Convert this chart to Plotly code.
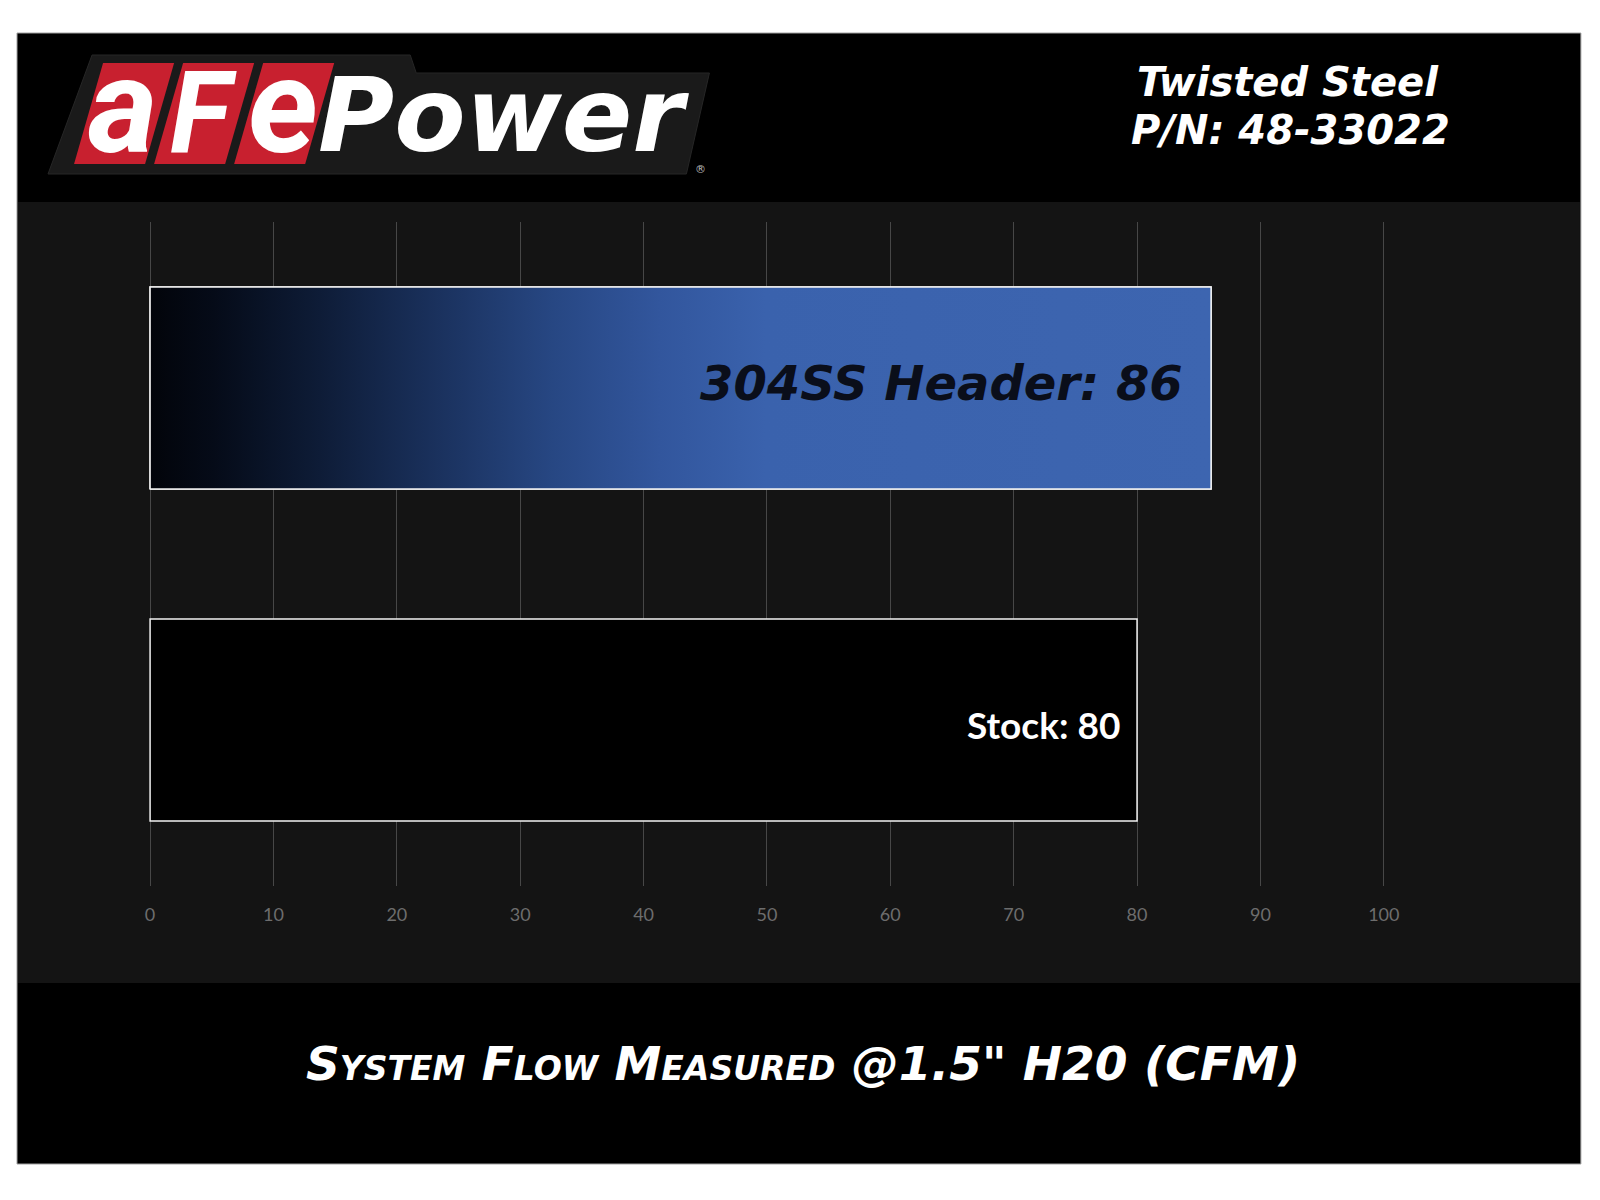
import plotly.graph_objects as go

W = 1600          # page width in px
H = 1190          # figure height (page content below 1190 is plain white)
K = 1612.0 / 1600.0  # horizontal compensation for the capture's width


def px(x):
    return x * K / W


def py(y):
    return 1 - y / H


# ---------------- data ----------------
categories = ["Stock", "304SS Header"]
values = [80, 86]
positions = [0, 1]
bar_fill = ["#000000", "#3b63ad"]
label_colors = ["#ffffff", "#0a0e1a"]
tick_values = [0, 10, 20, 30, 40, 50, 60, 70, 80, 90, 100]
tick_labels = ["0", "10", "20", "30", "40", "50", "60", "70", "80", "90", "100"]

title_text = 'System Flow Measured @1.5" H20 (CFM)'
product_line = "Twisted Steel"
part_number = "P/N: 48-33022"
logo_letters = ["a", "F", "e"]
logo_word = "Power"

BAR_W = 0.608
EDGE = "#f2f2f2"

# axis pixel geometry: value 0 at x=150px, 100 at x=1383px
X0_PX, X100_PX = 150, 1383
UNIT = (X100_PX - X0_PX) / 100.0
PADV = 0.4  # small value padding so the 0 and 100 grid lines are drawn

fig = go.Figure()

fig.add_trace(go.Bar(
    orientation="h",
    x=values,
    y=positions,
    width=BAR_W,
    marker=dict(color=bar_fill, line=dict(color=EDGE, width=1.5)),
    cliponaxis=False,
    hoverinfo="skip",
    showlegend=False,
))

# gradient fill for the header bar, built from its value
v, p = values[1], positions[1]
fig.add_trace(go.Scatter(
    x=[0, v, v, 0, 0],
    y=[p - BAR_W / 2, p - BAR_W / 2, p + BAR_W / 2, p + BAR_W / 2, p - BAR_W / 2],
    mode="lines",
    fill="toself",
    fillgradient=dict(
        type="horizontal",
        colorscale=[
            [0.0, "#02040a"],
            [0.06, "#050b18"],
            [0.16, "#0e1c37"],
            [0.27, "#1a315d"],
            [0.38, "#274783"],
            [0.48, "#32569d"],
            [0.58, "#3a62ad"],
            [1.0, "#3d65b0"],
        ],
    ),
    line=dict(color=EDGE, width=1.5),
    cliponaxis=False,
    hoverinfo="skip",
    showlegend=False,
))

shapes = []
# black frame
shapes.append(dict(type="rect", xref="paper", yref="paper",
                   x0=px(17), x1=px(1580), y0=py(1164), y1=py(33),
                   fillcolor="#000000", line=dict(color="#a0a0a0", width=1), layer="below"))
# textured chart panel
shapes.append(dict(type="rect", xref="paper", yref="paper",
                   x0=px(18), x1=px(1579), y0=py(983), y1=py(202),
                   fillcolor="#141414", line=dict(width=0), layer="below"))

# logo backing plate
plate = [(92, 55), (410, 55), (416, 73), (709, 73), (686, 174), (48, 174)]
path = "M " + " L ".join(f"{px(a):.5f},{py(b):.5f}" for a, b in plate) + " Z"
shapes.append(dict(type="path", xref="paper", yref="paper", path=path,
                   fillcolor="#1a1a1a", line=dict(color="#262626", width=1), layer="below"))

# red parallelograms
for i in range(3):
    tl = 103 + 80 * i
    pts = [(tl, 63), (tl + 71, 63), (tl + 71 - 29, 164), (tl - 29, 164)]
    path = "M " + " L ".join(f"{px(a):.5f},{py(b):.5f}" for a, b in pts) + " Z"
    shapes.append(dict(type="path", xref="paper", yref="paper", path=path,
                       fillcolor="#c8202f", line=dict(width=0), layer="below"))

annotations = []
for i, ch in enumerate(logo_letters):
    cx = 103 + 80 * i + 35 - 15
    size = 114 if ch == "F" else 134
    cy = 114 if ch == "F" else 106
    annotations.append(dict(xref="paper", yref="paper", x=px(cx), y=py(cy),
                            xanchor="center", yanchor="middle", showarrow=False, text=ch,
                            font=dict(family="Roboto", size=size, color="#ffffff",
                                      weight="bold", style="italic")))

annotations.append(dict(xref="paper", yref="paper", x=px(316), y=py(115),
                        xanchor="left", yanchor="middle", showarrow=False, text=logo_word,
                        font=dict(family="DejaVu Sans", size=104, color="#ffffff",
                                  weight="bold", style="italic")))
annotations.append(dict(xref="paper", yref="paper", x=px(700), y=py(170),
                        xanchor="center", yanchor="middle", showarrow=False, text="®",
                        font=dict(family="DejaVu Sans", size=11, color="#bbbbbb")))

annotations.append(dict(xref="paper", yref="paper", x=px(1287), y=py(82),
                        xanchor="center", yanchor="middle", showarrow=False, text=product_line,
                        font=dict(family="DejaVu Sans", size=40, color="#ffffff",
                                  weight="bold", style="italic")))
annotations.append(dict(xref="paper", yref="paper", x=px(1290), y=py(130),
                        xanchor="center", yanchor="middle", showarrow=False, text=part_number,
                        font=dict(family="DejaVu Sans", size=40, color="#ffffff",
                                  weight="bold", style="italic")))

annotations.append(dict(xref="paper", yref="paper", x=px(803), y=py(1063),
                        xanchor="center", yanchor="middle", showarrow=False, text=title_text,
                        font=dict(family="DejaVu Sans", size=47, color="#ffffff",
                                  weight="bold", style="italic", variant="small-caps")))

# bar value labels
label_fonts = [
    dict(family="Lato", size=37, color=label_colors[0], weight="bold"),
    dict(family="DejaVu Sans", size=48, color=label_colors[1], weight="bold", style="italic"),
]
label_shift = [(-15, -4), (-26, 5)]
for c, val, pos, f, (xs, ys) in zip(categories, values, positions, label_fonts, label_shift):
    annotations.append(dict(xref="x", yref="y", x=val, y=pos, xanchor="right", yanchor="middle",
                            xshift=xs * K, yshift=ys, showarrow=False, text=f"{c}: {val}", font=f))

fig.update_layout(
    width=W, height=H, autosize=False,
    margin=dict(l=0, r=0, t=0, b=0, pad=0),
    paper_bgcolor="#ffffff",
    plot_bgcolor="rgba(0,0,0,0)",
    showlegend=False,
    barmode="overlay",
    shapes=shapes,
    annotations=annotations,
    xaxis=dict(
        domain=[px(X0_PX - PADV * UNIT), px(X100_PX + PADV * UNIT)],
        range=[tick_values[0] - PADV, tick_values[-1] + PADV],
        tickvals=tick_values,
        ticktext=tick_labels,
        showgrid=True, gridcolor="#474747", gridwidth=1,
        zeroline=False, showline=False, ticks="",
        tickfont=dict(family="Lato", size=18, color="#6d6d6d"),
        ticklabelstandoff=16,
        fixedrange=True,
    ),
    yaxis=dict(
        domain=[py(886), py(222)],
        range=[-0.5, 1.5],
        showgrid=False, zeroline=False, showticklabels=False, showline=False, ticks="",
        fixedrange=True,
    ),
)

fig.write_html(
    "out.html",
    config={"displayModeBar": False, "responsive": False},
    default_width="1600px",
    default_height="1190px",
    post_script=(
        "document.documentElement.style.overflow='hidden';"
        "document.body.style.margin='0';document.body.style.overflow='hidden';"
    ),
)
